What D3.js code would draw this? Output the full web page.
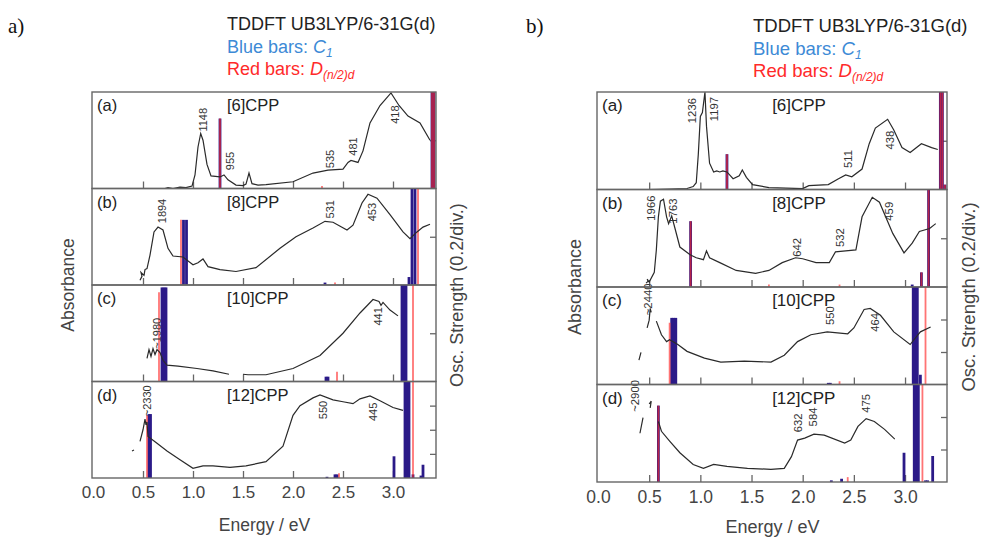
<!DOCTYPE html>
<html>
<head>
<meta charset="utf-8">
<script src="https://cdn.jsdelivr.net/npm/d3@7"></script>
<style>
body { margin: 0; background: #fff; }
svg text { font-family: "Liberation Sans", Arial, sans-serif; }
</style>
</head>
<body>
<svg id="chart" width="981" height="539"></svg>
<script>
// ---- data ----
var energyTicks = [0.0, 0.5, 1.0, 1.5, 2.0, 2.5, 3.0];
var panelLetters = ["(a)", "(b)", "(c)", "(d)"];
var molecules = ["[6]CPP", "[8]CPP", "[10]CPP", "[12]CPP"];

// spectra: [energy eV, absorbance (relative to panel)], null = gap in the trace
var specL6 = [[0.72,0],[0.75,0.01],[0.80,0.0],[0.87,0.015],[0.93,0.01],[0.99,0.025],[1.02,0.14],[1.05,0.43],[1.077,0.57],[1.10,0.50],[1.14,0.25],[1.18,0.13],[1.27,0.12],[1.31,0.14],[1.35,0.09],[1.43,0.035],[1.50,0.03],[1.53,0.045],[1.56,0.16],[1.59,0.05],[1.65,0.035],[1.73,0.04],[2.0,0.07],[2.2,0.16],[2.35,0.19],[2.5,0.2],[2.55,0.27],[2.58,0.29],[2.65,0.27],[2.70,0.39],[2.77,0.68],[2.87,0.86],[2.98,0.99],[3.06,0.86],[3.15,0.75],[3.27,0.68],[3.37,0.5]];
var specL8 = [[0.47,0.05],[0.49,0.09],[0.48,0.13],[0.51,0.10],[0.52,0.16],[0.54,0.17],[0.57,0.31],[0.61,0.55],[0.65,0.60],[0.70,0.57],[0.75,0.38],[0.80,0.30],[0.90,0.29],[1.00,0.21],[1.05,0.23],[1.10,0.27],[1.15,0.19],[1.27,0.16],[1.43,0.14],[1.63,0.18],[1.87,0.38],[2.03,0.50],[2.2,0.59],[2.32,0.66],[2.40,0.65],[2.54,0.57],[2.60,0.62],[2.69,0.85],[2.75,0.94],[2.84,0.90],[2.97,0.73],[3.10,0.55],[3.17,0.48],[3.24,0.55],[3.30,0.60],[3.37,0.63]];
var specL10 = [[0.54,0.24],[0.56,0.33],[0.58,0.26],[0.60,0.34],[0.62,0.28],[0.64,0.33],[0.67,0.30],[0.70,0.22],[0.74,0.17],[0.85,0.16],[1.04,0.135],[1.20,0.11],[1.36,0.075],null,[1.50,0.075],[1.55,0.07],[1.73,0.07],[2.0,0.135],[2.27,0.27],[2.50,0.50],[2.67,0.71],[2.80,0.85],[2.86,0.83],[2.88,0.79],[2.90,0.82],[2.97,0.74],[3.05,0.68]];
var specL12 = [[0.39,0.28],[0.41,0.29],null,[0.47,0.38],[0.50,0.50],[0.52,0.61],[0.53,0.55],[0.54,0.58],[0.55,0.43],[0.64,0.36],[0.74,0.28],[0.87,0.19],[1.0,0.10],[1.1,0.125],[1.2,0.125],[1.37,0.11],[1.53,0.125],[1.73,0.17],[1.9,0.33],[2.0,0.65],[2.07,0.75],[2.2,0.83],[2.27,0.86],[2.4,0.81],[2.5,0.79],[2.6,0.77],[2.67,0.82],[2.77,0.85],[2.87,0.80],[3.0,0.73],[3.1,0.70]];

var specR6 = [[0.51,0],[0.70,0.005],[0.87,0.01],[0.93,0.03],[0.96,0.07],[0.98,0.36],[1.0,0.75],[1.02,0.79],[1.045,1.0],[1.06,0.65],[1.09,0.27],[1.13,0.18],[1.16,0.19],[1.19,0.18],[1.22,0.19],[1.26,0.18],[1.32,0.11],[1.38,0.14],[1.41,0.2],[1.45,0.125],[1.51,0.05],[1.67,0.02],[2.0,0.01],[2.06,0.04],[2.25,0.05],[2.35,0.11],[2.42,0.15],[2.48,0.13],[2.58,0.21],[2.65,0.47],[2.71,0.63],[2.83,0.72],[2.89,0.61],[2.97,0.43],[3.05,0.38],[3.16,0.47],[3.26,0.43],[3.32,0.41]];
var specR8 = [[0.47,0.04],[0.49,0.06],[0.48,0.08],[0.50,0.05],[0.55,0.15],[0.57,0.38],[0.59,0.72],[0.61,0.88],[0.64,0.90],[0.67,0.72],[0.69,0.65],[0.72,0.73],[0.75,0.61],[0.80,0.41],[0.90,0.33],[0.96,0.30],[1.03,0.28],[1.06,0.37],[1.09,0.30],[1.19,0.25],[1.35,0.17],[1.54,0.14],[1.67,0.17],[1.80,0.25],[1.93,0.30],[2.0,0.29],[2.13,0.25],[2.26,0.25],[2.32,0.36],[2.42,0.37],[2.52,0.38],[2.58,0.72],[2.68,0.92],[2.75,0.87],[2.88,0.55],[2.99,0.35],[3.07,0.45],[3.14,0.57],[3.24,0.60],[3.30,0.65]];
var specR10 = [[0.40,0.25],[0.42,0.33],null,[0.48,0.58],[0.50,0.66],[0.51,0.78],[0.52,0.74],null,[0.57,0.65],[0.62,0.51],[0.67,0.44],[0.70,0.46],[0.78,0.41],[0.87,0.34],[1.04,0.27],[1.20,0.23],[1.43,0.24],[1.69,0.23],[1.82,0.30],[1.95,0.44],[2.08,0.51],[2.24,0.54],[2.34,0.53],[2.44,0.52],[2.50,0.58],[2.60,0.77],[2.66,0.78],[2.76,0.71],[2.89,0.54],[3.05,0.41],[3.15,0.54],[3.25,0.59]];
var specR12 = [[0.41,0.50],[0.44,0.66],null,[0.50,0.80],[0.52,0.83],[0.51,0.76],null,[0.59,0.62],[0.62,0.52],[0.70,0.42],[0.80,0.30],[0.93,0.18],[1.03,0.14],[1.13,0.18],[1.26,0.16],[1.46,0.14],[1.69,0.13],[1.82,0.14],[1.89,0.26],[1.95,0.43],[2.02,0.45],[2.11,0.49],[2.21,0.48],[2.41,0.40],[2.47,0.43],[2.54,0.57],[2.62,0.65],[2.70,0.62],[2.80,0.54],[2.90,0.44]];

// oscillator strengths: [energy eV, f]; blue = C1, red = D(n/2)d
var blueL6 = [[1.27,0.29],[3.39,1],[3.41,1]];
var redL6 = [[1.27,0.29],[3.39,1],[3.41,1],[2.29,0.01]];
var blueL8 = [[0.905,0.27],[0.935,0.27],[3.19,1],[3.22,1],[2.32,0.01],[3.16,0.033]];
var redL8 = [[0.88,0.27],[3.25,1],[2.42,0.01]];
var blueL10 = [[0.69,0.39],[0.71,0.39],[0.73,0.39],[3.09,1],[3.11,1],[3.13,1],[2.33,0.02],[2.35,0.02]];
var redL10 = [[0.66,0.37],[3.20,1],[2.44,0.04]];
var blueL12 = [[0.56,0.53],[0.575,0.53],[3.12,1],[3.14,1],[3.16,1],[3.01,0.18],[3.30,0.11],[3.28,0.02],[3.20,0.03],[2.34,0.01],[2.42,0.03],[2.44,0.03]];
var redL12 = [[0.54,0.52],[3.20,1],[2.46,0.04]];

var blueR6 = [[1.26,0.145],[3.345,1],[3.365,1],[3.39,0.02]];
var redR6 = [[1.26,0.145],[3.345,1],[3.365,1],[3.39,0.02]];
var blueR8 = [[0.905,0.27],[3.23,1],[3.16,0.06],[3.07,0.01]];
var redR8 = [[0.905,0.27],[3.23,1],[3.16,0.06],[1.67,0.01],[2.36,0.01]];
var blueR10 = [[0.72,0.41],[0.74,0.41],[0.76,0.41],[3.08,1],[3.10,1],[3.12,1],[3.15,0.06],[2.25,0.01],[2.27,0.01]];
var redR10 = [[0.70,0.38],[3.20,1],[2.36,0.02]];
var blueR12 = [[0.59,0.47],[3.09,1],[3.11,1],[3.13,1],[2.99,0.18],[3.27,0.16],[3.20,0.01],[3.22,0.01],[2.28,0.01],[2.38,0.02]];
var redR12 = [[0.59,0.47],[3.17,1],[2.44,0.03]];

// full-scale oscillator strength of each panel (0.2 per division)
var oscMaxL = [0.4, 0.4, 0.4, 0.8];
var oscMaxR = [0.4, 0.4, 0.6, 0.6];

// peak labels: [text, energy eV, height of label foot (relative)]
var peaksL6 = [["1148",1.10,0.59],["955",1.37,0.19],["535",2.37,0.21],["481",2.60,0.34],["418",3.02,0.67]];
var peaksL8 = [["1894",0.69,0.64],["531",2.37,0.69],["453",2.79,0.66]];
var peaksL10 = [["~1980",0.64,0.34],["441",2.85,0.58]];
var peaksL12 = [["~2330",0.54,0.64],["550",2.30,0.61],["445",2.80,0.59]];
var peaksR6 = [["1236",0.915,0.68],["1197",1.13,0.70],["511",2.44,0.22],["438",2.85,0.41]];
var peaksR8 = [["1966",0.52,0.68],["1763",0.735,0.65],["642",1.94,0.31],["532",2.36,0.41],["459",2.84,0.68]];
var peaksR10 = [["~2440",0.49,0.71],["550",2.27,0.61],["464",2.71,0.54]];
var peaksR12 = [["~2900",0.36,0.72],["632",1.95,0.51],["584",2.10,0.57],["475",2.62,0.71]];

// ---- drawing ----
var svg = d3.select('#chart');
var blue = '#2b1a88', red = '#ff2a2a';

var figures = [
  { tag: 'a)', tagX: 8, left: 93, right: 436, maxE: 3.43, top: 92, bottom: 478, fs: 1.0,
    headX: 227, headY: 30, tickY: 498, titleY: 531, absX: 68, oscX: 457,
    spectra: [specL6, specL8, specL10, specL12], blues: [blueL6, blueL8, blueL10, blueL12],
    reds: [redL6, redL8, redL10, redL12], peaks: [peaksL6, peaksL8, peaksL10, peaksL12], oscMax: oscMaxL },
  { tag: 'b)', tagX: 526, left: 598, right: 947, maxE: 3.41, top: 92, bottom: 482, fs: 1.03,
    headX: 753, headY: 32, tickY: 503, titleY: 533, absX: 574, oscX: 968,
    spectra: [specR6, specR8, specR10, specR12], blues: [blueR6, blueR8, blueR10, blueR12],
    reds: [redR6, redR8, redR10, redR12], peaks: [peaksR6, peaksR8, peaksR10, peaksR12], oscMax: oscMaxR }
];

figures.forEach(function(fig){
  var x = d3.scaleLinear().domain([0, fig.maxE]).range([fig.left, fig.right]);
  var ph = (fig.bottom - fig.top) / 4;
  var g = svg.append('g');

  // header
  g.append('text').attr('x', fig.tagX).attr('y', 33)
    .style('font-family', '"Liberation Serif", "Times New Roman", serif')
    .style('font-size', '21px').attr('fill', '#111').text(fig.tag);
  g.append('text').attr('x', fig.headX).attr('y', fig.headY)
    .style('font-size', (18 * fig.fs) + 'px').attr('fill', '#222').text('TDDFT UB3LYP/6-31G(d)');
  var t1 = g.append('text').attr('x', fig.headX).attr('y', fig.headY + 23)
    .style('font-size', (18 * fig.fs) + 'px').attr('fill', '#3d8ad6');
  t1.append('tspan').text('Blue bars: ');
  t1.append('tspan').style('font-style', 'italic').text('C');
  t1.append('tspan').style('font-style', 'italic').style('font-size', '12px').attr('dy', 4).text('1');
  var t2 = g.append('text').attr('x', fig.headX).attr('y', fig.headY + 45)
    .style('font-size', (18 * fig.fs) + 'px').attr('fill', '#ff2a2a');
  t2.append('tspan').text('Red bars: ');
  t2.append('tspan').style('font-style', 'italic').text('D');
  t2.append('tspan').style('font-style', 'italic').style('font-size', '12px').attr('dy', 4).text('(n/2)d');

  var line = d3.line().defined(function(d){ return d !== null; });

  for (var i = 0; i < 4; i++) {
    var top = fig.top + i * ph, bottom = top + ph;
    var yAbs = d3.scaleLinear().domain([0, 1]).range([bottom, top]);
    var yOsc = d3.scaleLinear().domain([0, fig.oscMax[i]]).range([bottom, top]).clamp(true);
    var p = g.append('g');

    // inner ticks along the bottom edge
    p.append('g').attr('transform', 'translate(0,' + bottom + ')')
      .call(d3.axisTop(x).tickValues(energyTicks.slice(1)).tickSize(7).tickFormat(''))
      .call(function(a){ a.select('.domain').remove(); a.selectAll('line').attr('stroke', '#666').attr('stroke-width', 1.3); });
    // inner ticks on the right edge (0.2/div)
    p.append('g').attr('transform', 'translate(' + fig.right + ',0)')
      .call(d3.axisLeft(yOsc).tickValues(d3.range(0.2, fig.oscMax[i] - 0.01, 0.2)).tickSize(6).tickFormat(''))
      .call(function(a){ a.select('.domain').remove(); a.selectAll('line').attr('stroke', '#666').attr('stroke-width', 1.3); });

    // bars
    p.selectAll('.blue').data(fig.blues[i]).enter().append('line')
      .attr('x1', function(d){ return x(d[0]); }).attr('x2', function(d){ return x(d[0]); })
      .attr('y1', bottom).attr('y2', function(d){ return yOsc(d[1]); })
      .attr('stroke', blue).attr('stroke-width', 2.8);
    p.selectAll('.red').data(fig.reds[i]).enter().append('line')
      .attr('x1', function(d){ return x(d[0]); }).attr('x2', function(d){ return x(d[0]); })
      .attr('y1', bottom).attr('y2', function(d){ return yOsc(d[1]); })
      .attr('stroke', red).attr('stroke-opacity', 0.65).attr('stroke-width', 1.8);

    // spectrum
    p.append('path').datum(fig.spectra[i].map(function(d){ return d ? [x(d[0]), yAbs(d[1])] : null; }))
      .attr('d', line).attr('fill', 'none').attr('stroke', '#2a2a2a').attr('stroke-width', 1.2);

    // peak labels
    p.selectAll('.pk').data(fig.peaks[i]).enter().append('text')
      .attr('transform', function(d){ return 'translate(' + x(d[1]) + ',' + yAbs(d[2]) + ') rotate(-90)'; })
      .attr('dy', '0.36em').style('font-size', (11 * fig.fs) + 'px').attr('fill', '#333')
      .text(function(d){ return d[0]; });

    // panel letter and molecule
    p.append('text').attr('x', fig.left + 4).attr('y', top + 19).style('font-size', (16.5 * fig.fs) + 'px')
      .attr('fill', '#222').text(panelLetters[i]);
    p.append('text').attr('x', x(1.34) + (fig.fs > 1 ? 37 : 0)).attr('y', top + 19).style('font-size', (16.5 * fig.fs) + 'px')
      .attr('fill', '#222').text(molecules[i]);

    // frame
    p.append('rect').attr('x', fig.left - 1).attr('y', top).attr('width', fig.right - fig.left + 1).attr('height', ph)
      .attr('fill', 'none').attr('stroke', '#666').attr('stroke-width', 1.4);
  }

  // energy tick labels
  g.append('g').attr('transform', 'translate(0,' + (fig.tickY - 12) + ')')
    .call(d3.axisBottom(x).tickValues(energyTicks).tickSize(0).tickFormat(d3.format('.1f')))
    .call(function(a){
      a.select('.domain').remove();
      a.selectAll('text').attr('dy', 0).attr('y', 12).attr('fill', '#444')
        .style('font-size', (17 * fig.fs) + 'px').style('font-family', '"Liberation Sans", Arial, sans-serif');
    });
  g.append('text').attr('x', (fig.left + fig.right) / 2).attr('y', fig.titleY).attr('text-anchor', 'middle')
    .style('font-size', (17.5 * fig.fs) + 'px').attr('fill', '#444').text('Energy / eV');
  g.append('text').attr('transform', 'translate(' + fig.absX + ',' + ((fig.top + fig.bottom) / 2) + ') rotate(-90)')
    .attr('text-anchor', 'middle').attr('dy', '0.36em').style('font-size', (17.5 * fig.fs) + 'px').attr('fill', '#444').text('Absorbance');
  g.append('text').attr('transform', 'translate(' + fig.oscX + ',' + ((fig.top + fig.bottom) / 2 + 10) + ') rotate(-90)')
    .attr('text-anchor', 'middle').attr('dy', '0.36em').style('font-size', (18 * fig.fs) + 'px').attr('fill', '#444').text('Osc. Strength (0.2/div.)');
});
</script>
</body>
</html>
